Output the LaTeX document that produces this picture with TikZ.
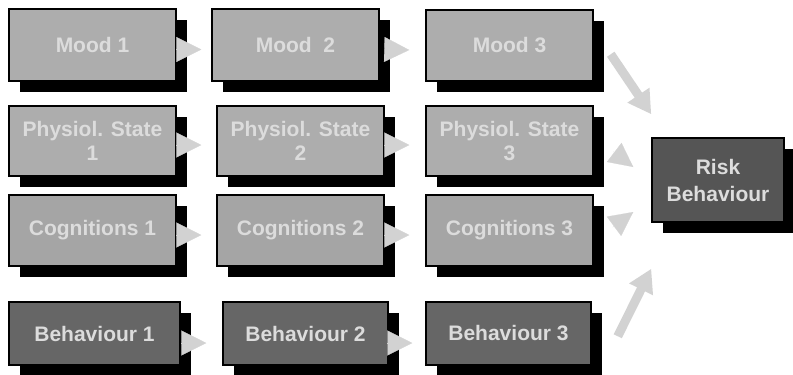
\documentclass[tikz,border=0pt]{standalone}
\usepackage{fontspec}
\setmainfont{Liberation Sans}
\usetikzlibrary{arrows.meta,shadows,calc}
\definecolor{moodfill}{HTML}{ADADAD}
\definecolor{cogfill}{HTML}{A5A5A5}
\definecolor{behfill}{HTML}{666666}
\definecolor{riskfill}{HTML}{555555}
\definecolor{labeltext}{HTML}{DCDCDC}
\definecolor{arrowgray}{HTML}{D2D2D2}
\begin{document}
\begin{tikzpicture}[x=1pt,y=-1pt,
  box/.style={draw=black, line width=1.5pt, inner sep=0pt, align=center,
    text=labeltext, font=\bfseries\fontsize{21}{24}\selectfont,
    general shadow={fill=black, shadow xshift=11pt, shadow yshift=-11pt}},
  lightbox/.style={box, fill=moodfill, minimum width=167pt},
  cogbox/.style={box, fill=cogfill, minimum width=167pt, minimum height=71pt},
  behbox/.style={box, fill=behfill, minimum height=63pt},
  tri/.style={draw=arrowgray, line width=0.2pt, -{Triangle[length=25pt,width=25pt]}},
  bigarrow/.style={draw=arrowgray, line width=9pt, -{Triangle[length=23pt,width=25pt]}},
  headonly/.style={draw=arrowgray, line width=0.2pt, -{Triangle[length=24pt,width=24pt]}}]
\useasboundingbox (0,0) rectangle (793,375);

% mood row
\node[lightbox, minimum height=72pt] (m1) at (92.5,45) {Mood 1};
\node[lightbox, minimum height=72pt] (m2) at (295.5,45) {Mood\ \ 2};
\node[lightbox, minimum height=71pt] (m3) at (509.5,45.5) {Mood 3};

% physiological state row
\node[lightbox, minimum height=70pt] (p1) at (92.5,141) {Physiol. State\\1};
\node[lightbox, minimum height=70pt] (p2) at (300.5,141) {Physiol. State\\2};
\node[lightbox, minimum height=70pt] (p3) at (509.5,141) {Physiol. State\\3};

% cognitions row
\node[cogbox] (c1) at (92.5,230.5) {Cognitions 1};
\node[cogbox] (c2) at (300.5,230.5) {Cognitions 2};
\node[cogbox] (c3) at (509.5,230.5) {Cognitions 3};

% behaviour row
\node[behbox, minimum width=171pt] (b1) at (94.5,333.5) {Behaviour 1};
\node[behbox, minimum width=165pt] (b2) at (305.5,333.5) {Behaviour 2};
\node[behbox, minimum width=165pt] (b3) at (508.5,333.5) {Behaviour 3};

% outcome
\node[box, fill=riskfill, minimum width=132pt, minimum height=84pt,
  font=\bfseries\fontsize{21}{27}\selectfont] (risk) at (718,180) {Risk\\Behaviour};

% step arrows along each row
\draw[tri] ($(m1.east)+(1,4.5)$) -- ($(m2.west)+(-10,4.5)$);
\draw[tri] ($(m2.east)+(7,4.5)$) -- ($(m3.west)+(-16,4.5)$);
\draw[tri] ($(p1.east)+(1,4)$) -- ($(p2.west)+(-15,4)$);
\draw[tri] ($(p2.east)+(2,4)$) -- ($(p3.west)+(-16,4)$);
\draw[tri] ($(c1.east)+(1,4.5)$) -- ($(c2.west)+(-15,4.5)$);
\draw[tri] ($(c2.east)+(2,4.5)$) -- ($(c3.west)+(-16,4.5)$);
\draw[tri] ($(b1.east)+(3,9.5)$) -- ($(b2.west)+(-16,9.5)$);
\draw[tri] ($(b2.east)+(1,9.5)$) -- ($(b3.west)+(-13,9.5)$);

% arrows into the outcome
\coordinate (mtail) at ($(m3.north east)+(17,45)$);
\coordinate (mtip) at ($(risk.north west)+(0,-23)$);
\draw[bigarrow] (mtail) -- (mtip);
\coordinate (ptail) at ($(p3.east)+(19.5,10.7)$);
\coordinate (ptip) at ($(risk.west)+(-18,-13)$);
\draw[headonly] (ptail) -- (ptip);
\coordinate (ctail) at ($(c3.east)+(19,-3.3)$);
\coordinate (ctip) at ($(risk.west)+(-18,32)$);
\draw[headonly] (ctail) -- (ctip);
\coordinate (btail) at ($(b3.north east)+(26,35)$);
\coordinate (btip) at ($(risk.south west)+(0,46)$);
\draw[bigarrow] (btail) -- (btip);
\end{tikzpicture}
\end{document}
